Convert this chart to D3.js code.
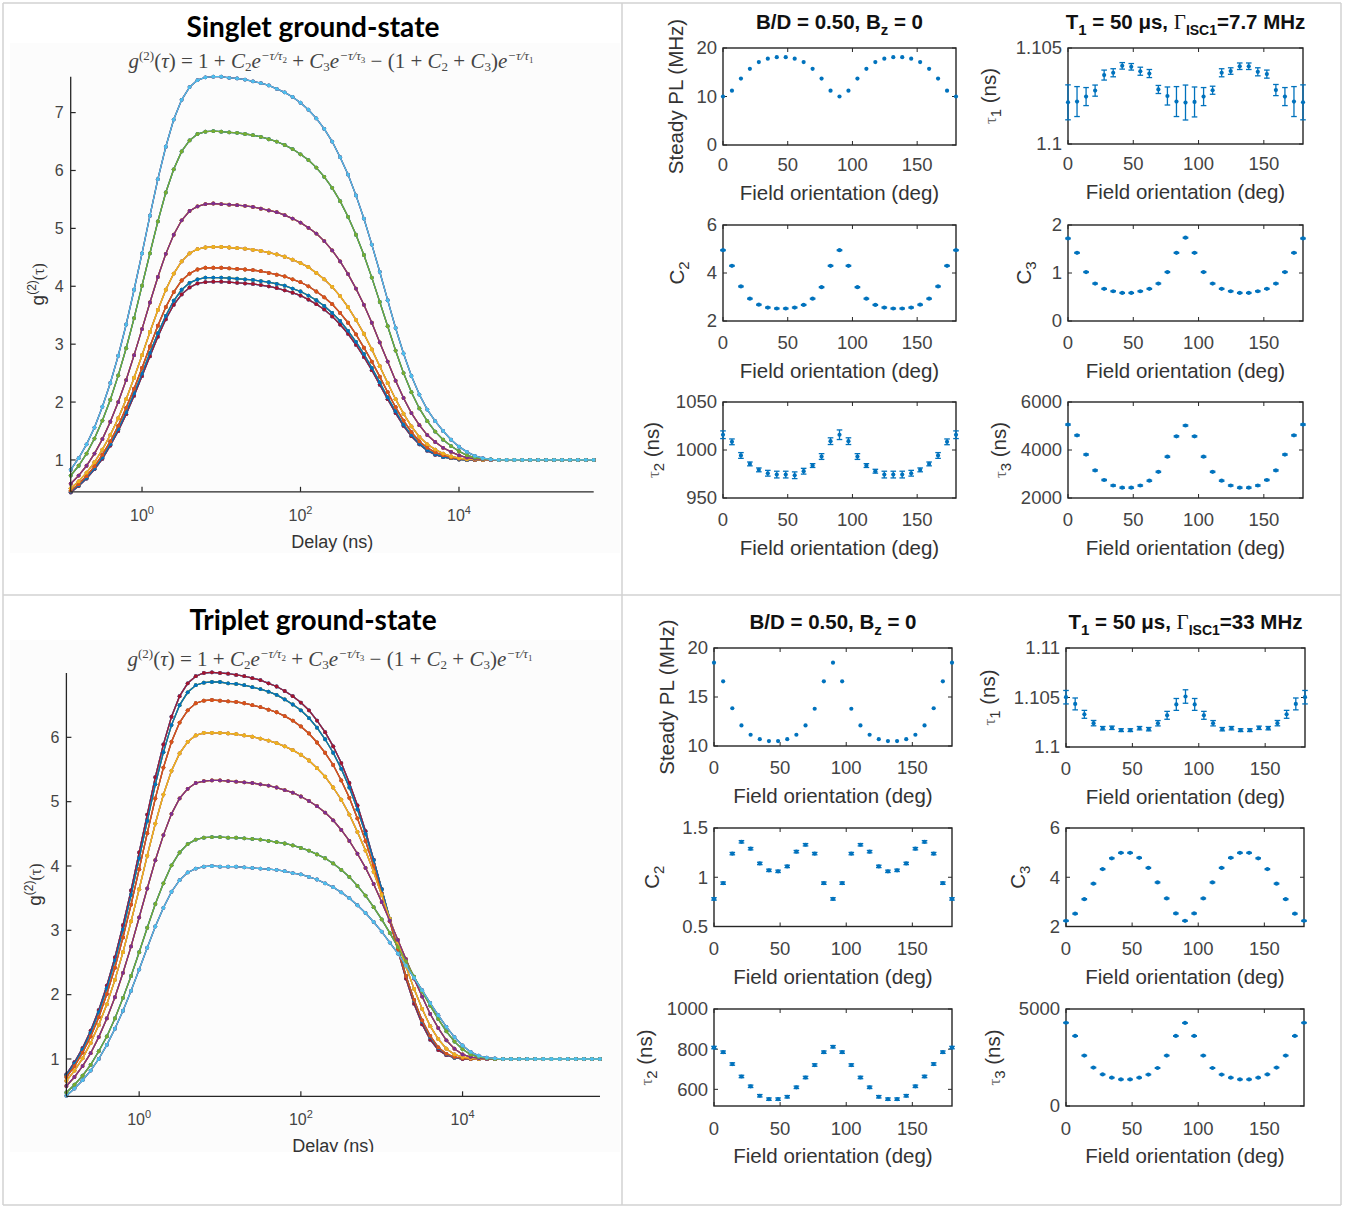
<!DOCTYPE html>
<html>
<head>
<meta charset="utf-8">
<script src="https://cdn.jsdelivr.net/npm/d3@7"></script>
<style>
  body { margin: 0; background: #fff; }
  text { white-space: pre; }
</style>
</head>
<body>
<div id="fig"></div>
<script>
// MATLAB default colour order, cycled over the 27 field orientations
var colorOrder = ["#0072BD", "#D95319", "#EDB120", "#7E2F8E", "#77AC30", "#4DBEEE", "#A2142F"];

// field orientation (deg)
var angles = [0, 6.92, 13.85, 20.77, 27.69, 34.62, 41.54, 48.46, 55.38, 62.31, 69.23, 76.15, 83.08, 90,
  96.92, 103.85, 110.77, 117.69, 124.62, 131.54, 138.46, 145.38, 152.31, 159.23, 166.15, 173.08, 180];

// log10 of the delay (ns) of every g2 sample
var delayExp = [-0.9,-0.8,-0.7,-0.6,-0.5,-0.4,-0.3,-0.2,-0.1,0,0.1,0.2,0.3,0.4,0.5,0.6,0.7,0.8,0.9,
  1,1.1,1.2,1.3,1.4,1.5,1.6,1.7,1.8,1.9,2,2.1,2.2,2.3,2.4,2.5,2.6,2.7,2.8,2.9,
  3,3.1,3.2,3.3,3.4,3.5,3.6,3.7,3.8,3.9,4,4.1,4.2,4.3,4.4,4.5,4.6,4.7,4.8,4.9,
  5,5.1,5.2,5.3,5.4,5.5,5.6,5.7];

// the 27 orientations only give 7 different curves (mirror about 45 and 90 deg)
var curveOfAngle = [0,1,2,3,4,5,6,6,5,4,3,2,1,0,1,2,3,4,5,6,6,5,4,3,2,1,0];

// singlet ground-state g2 curves
var singletG0 = [0.83,1.03,1.27,1.56,1.92,2.33,2.80,3.34,3.94,4.57,5.22,5.85,6.41,6.88,7.22,7.44,7.56,7.61,7.62,
  7.62,7.60,7.59,7.57,7.54,7.51,7.47,7.41,7.35,7.27,7.17,7.05,6.90,6.72,6.50,6.23,5.93,5.57,5.17,4.72,
  4.25,3.76,3.28,2.84,2.45,2.13,1.87,1.67,1.50,1.35,1.23,1.14,1.07,1.03,1.01,1.00,1,1,1,1,1,1,1,1,1,1,1,1];
var singletG1 = [0.73,0.90,1.11,1.37,1.68,2.04,2.46,2.93,3.45,4.01,4.57,5.12,5.62,6.02,6.33,6.52,6.63,6.67,6.68,
  6.67,6.66,6.65,6.63,6.61,6.58,6.54,6.50,6.44,6.37,6.28,6.18,6.05,5.89,5.70,5.47,5.20,4.89,4.54,4.15,
  3.73,3.31,2.89,2.50,2.17,1.89,1.67,1.49,1.35,1.24,1.15,1.08,1.04,1.02,1.01,1.00,1,1,1,1,1,1,1,1,1,1,1,1];
var singletG2 = [0.59,0.73,0.90,1.11,1.36,1.66,2.00,2.38,2.81,3.26,3.72,4.16,4.56,4.89,5.14,5.30,5.38,5.42,5.43,
  5.42,5.41,5.40,5.39,5.37,5.34,5.31,5.28,5.23,5.17,5.10,5.01,4.91,4.78,4.62,4.43,4.21,3.96,3.68,3.37,
  3.03,2.70,2.37,2.07,1.81,1.60,1.43,1.31,1.21,1.14,1.08,1.04,1.02,1.01,1.00,1.00,1,1,1,1,1,1,1,1,1,1,1,1];
var singletG3 = [0.51,0.63,0.78,0.96,1.18,1.43,1.72,2.05,2.42,2.81,3.21,3.59,3.94,4.22,4.43,4.57,4.64,4.67,4.68,
  4.68,4.67,4.66,4.65,4.63,4.61,4.58,4.55,4.51,4.46,4.40,4.33,4.23,4.12,3.99,3.83,3.64,3.42,3.18,2.91,
  2.62,2.33,2.05,1.80,1.58,1.40,1.27,1.18,1.11,1.06,1.03,1.01,1.01,1.00,1.00,1.00,1,1,1,1,1,1,1,1,1,1,1,1];
var singletG4 = [0.47,0.58,0.72,0.89,1.09,1.32,1.59,1.90,2.23,2.59,2.96,3.32,3.64,3.90,4.10,4.22,4.29,4.32,4.32,
  4.32,4.31,4.30,4.29,4.28,4.26,4.23,4.20,4.17,4.12,4.07,4.00,3.91,3.81,3.69,3.54,3.37,3.17,2.94,2.70,
  2.44,2.17,1.91,1.68,1.48,1.32,1.21,1.13,1.08,1.04,1.02,1.01,1.00,1.00,1.00,1.00,1,1,1,1,1,1,1,1,1,1,1,1];
var singletG5 = [0.45,0.56,0.69,0.85,1.04,1.27,1.53,1.82,2.15,2.49,2.85,3.19,3.49,3.75,3.94,4.06,4.12,4.15,4.15,
  4.15,4.14,4.13,4.12,4.11,4.09,4.07,4.04,4.01,3.96,3.91,3.84,3.76,3.66,3.54,3.40,3.23,3.04,2.83,2.59,
  2.34,2.08,1.84,1.61,1.43,1.28,1.17,1.10,1.05,1.03,1.01,1.00,1.00,1.00,1.00,1.00,1,1,1,1,1,1,1,1,1,1,1,1];
var singletG6 = [0.44,0.55,0.68,0.84,1.02,1.25,1.50,1.79,2.11,2.45,2.79,3.13,3.43,3.68,3.86,3.98,4.05,4.07,4.08,
  4.08,4.07,4.06,4.05,4.04,4.02,4.00,3.97,3.93,3.89,3.84,3.77,3.69,3.60,3.48,3.34,3.18,2.99,2.78,2.55,
  2.30,2.05,1.81,1.59,1.41,1.27,1.16,1.09,1.05,1.03,1.01,1.00,1.00,1.00,1.00,1.00,1,1,1,1,1,1,1,1,1,1,1,1];

// triplet ground-state g2 curves
var tripletG0 = [0.43,0.54,0.67,0.82,1.00,1.22,1.47,1.75,2.06,2.39,2.73,3.06,3.35,3.60,3.78,3.90,3.96,3.99,4.00,
  3.99,3.99,3.99,3.98,3.97,3.96,3.95,3.94,3.92,3.89,3.87,3.83,3.79,3.73,3.67,3.59,3.50,3.39,3.27,3.13,
  2.98,2.81,2.64,2.45,2.26,2.07,1.87,1.68,1.50,1.34,1.21,1.11,1.05,1.02,1.01,1.00,1,1,1,1,1,1,1,1,1,1,1,1];
var tripletG1 = [0.48,0.60,0.74,0.91,1.12,1.35,1.63,1.95,2.29,2.66,3.04,3.41,3.73,4.01,4.21,4.34,4.41,4.44,4.45,
  4.45,4.44,4.44,4.43,4.42,4.41,4.39,4.37,4.35,4.32,4.28,4.24,4.18,4.12,4.04,3.94,3.83,3.69,3.54,3.36,
  3.17,2.96,2.74,2.52,2.28,2.05,1.83,1.62,1.43,1.27,1.15,1.07,1.03,1.01,1.00,1.00,1,1,1,1,1,1,1,1,1,1,1,1];
var tripletG2 = [0.58,0.72,0.89,1.09,1.34,1.63,1.96,2.34,2.75,3.20,3.65,4.09,4.48,4.81,5.05,5.20,5.29,5.32,5.33,
  5.33,5.32,5.31,5.30,5.29,5.27,5.25,5.22,5.18,5.14,5.08,5.01,4.93,4.83,4.71,4.56,4.39,4.19,3.97,3.72,
  3.44,3.15,2.85,2.55,2.25,1.97,1.70,1.48,1.29,1.16,1.07,1.03,1.01,1.00,1.00,1.00,1,1,1,1,1,1,1,1,1,1,1,1];
var tripletG3 = [0.66,0.82,1.01,1.25,1.53,1.85,2.23,2.66,3.14,3.64,4.16,4.66,5.11,5.48,5.75,5.93,6.03,6.07,6.07,
  6.07,6.06,6.05,6.03,6.01,5.98,5.95,5.91,5.86,5.80,5.73,5.64,5.52,5.39,5.22,5.03,4.80,4.53,4.24,3.91,
  3.55,3.18,2.81,2.44,2.09,1.78,1.51,1.31,1.16,1.07,1.03,1.01,1.00,1.00,1.00,1.00,1,1,1,1,1,1,1,1,1,1,1,1];
var tripletG4 = [0.72,0.89,1.10,1.35,1.65,2.01,2.42,2.89,3.40,3.95,4.51,5.05,5.53,5.93,6.23,6.42,6.53,6.57,6.58,
  6.57,6.56,6.55,6.53,6.50,6.47,6.43,6.39,6.33,6.26,6.17,6.06,5.92,5.76,5.57,5.33,5.06,4.74,4.39,4.00,
  3.57,3.14,2.70,2.29,1.92,1.60,1.36,1.18,1.08,1.03,1.01,1.00,1.00,1.00,1.00,1.00,1,1,1,1,1,1,1,1,1,1,1,1];
var tripletG5 = [0.75,0.93,1.15,1.41,1.73,2.10,2.53,3.01,3.55,4.12,4.70,5.27,5.77,6.19,6.50,6.70,6.81,6.85,6.86,
  6.86,6.84,6.83,6.81,6.78,6.75,6.71,6.66,6.59,6.51,6.42,6.30,6.15,5.97,5.76,5.51,5.22,4.88,4.50,4.09,
  3.64,3.18,2.73,2.29,1.91,1.58,1.34,1.17,1.07,1.02,1.01,1.00,1.00,1.00,1.00,1.00,1,1,1,1,1,1,1,1,1,1,1,1];
var tripletG6 = [0.76,0.95,1.17,1.44,1.76,2.14,2.58,3.08,3.62,4.21,4.80,5.38,5.89,6.32,6.64,6.84,6.95,7.00,7.01,
  7.00,6.99,6.97,6.95,6.92,6.89,6.84,6.79,6.72,6.64,6.54,6.42,6.26,6.08,5.86,5.60,5.29,4.94,4.54,4.10,
  3.64,3.16,2.69,2.25,1.86,1.54,1.30,1.14,1.06,1.02,1.00,1.00,1.00,1.00,1.00,1.00,1,1,1,1,1,1,1,1,1,1,1,1];

var singletCurves = [singletG0, singletG1, singletG2, singletG3, singletG4, singletG5, singletG6];
var tripletCurves = [tripletG0, tripletG1, tripletG2, tripletG3, tripletG4, tripletG5, tripletG6];

// singlet fit parameters vs field orientation
var singletPL = [10.0,11.2,13.7,15.7,17.1,17.8,18.1,18.1,17.8,17.1,15.7,13.7,11.2,10.0,
  11.2,13.7,15.7,17.1,17.8,18.1,18.1,17.8,17.1,15.7,13.7,11.2,10.0];
var singletTau1 = [1.10217,1.10221,1.10247,1.10278,1.10359,1.10371,1.10407,1.10402,1.10379,1.10367,1.10284,1.10250,1.10221,1.10216,
  1.10219,1.10247,1.10280,1.10371,1.10380,1.10405,1.10405,1.10376,1.10364,1.10281,1.10247,1.10221,1.10217];
var singletTau1Err = [0.00091,0.00078,0.00047,0.00029,0.00026,0.00021,0.00017,0.00017,0.00021,0.00021,0.00021,0.00047,0.00078,0.00091,
  0.00078,0.00047,0.00021,0.00021,0.00017,0.00017,0.00017,0.00021,0.00021,0.00029,0.00047,0.00078,0.00091];
var singletC2 = [4.95,4.30,3.44,2.93,2.68,2.56,2.52,2.52,2.56,2.67,2.93,3.41,4.30,4.95,
  4.30,3.41,2.93,2.67,2.56,2.52,2.52,2.56,2.68,2.93,3.44,4.30,4.95];
var singletC3 = [1.72,1.42,1.02,0.78,0.67,0.62,0.585,0.585,0.62,0.67,0.78,1.02,1.42,1.735,
  1.42,1.02,0.78,0.67,0.62,0.585,0.585,0.62,0.67,0.78,1.02,1.42,1.72];
var singletTau2 = [1015.9,1008.5,994.3,985.5,979.3,975.8,974.4,974.4,973.7,977.9,983.8,993.2,1009.2,1015.9,
  1009.2,993.2,983.8,977.9,974.4,974.4,974.4,975.8,979.3,985.5,994.3,1008.5,1015.9];
var singletTau2Err = [4,3,3,2,2,3,3.5,3.5,3.5,3,2,3,3.5,5,3.5,3,2,2,3.5,3.5,3.5,3,2,2,3,3,4];
var singletTau3 = [5060,4610,3810,3150,2750,2520,2430,2430,2520,2720,3090,3720,4570,5020,
  4570,3720,3090,2720,2520,2430,2430,2520,2750,3150,3810,4610,5060];
var singletC2Err = 0.02, singletC3Err = 0.01, singletTau3Err = 25;

// triplet fit parameters vs field orientation
var tripletPL = [18.5,16.6,13.85,12.1,11.15,10.7,10.5,10.5,10.7,11.15,12.1,13.8,16.6,18.5,
  16.6,13.8,12.1,11.15,10.7,10.5,10.5,10.7,11.15,12.1,13.85,16.6,18.5];
var tripletTau1 = [1.10503,1.10435,1.1033,1.10241,1.1019,1.10194,1.1017,1.1017,1.1019,1.1018,1.1024,1.1032,1.1043,1.1051,
  1.1043,1.1032,1.1024,1.1018,1.1019,1.1017,1.1017,1.10194,1.1019,1.10241,1.1033,1.10435,1.10503];
var tripletTau1Err = [0.00068,0.0006,0.0004,0.00027,0.00017,0.00017,0.00014,0.00014,0.00017,0.00017,0.00027,0.0004,0.0006,0.00068,
  0.0006,0.0004,0.00027,0.00017,0.00017,0.00014,0.00014,0.00017,0.00017,0.00027,0.0004,0.0006,0.00068];
var tripletC2 = [0.78,0.94,1.24,1.36,1.29,1.14,1.07,1.06,1.11,1.26,1.33,1.24,0.94,0.78,
  0.94,1.24,1.33,1.26,1.11,1.06,1.07,1.14,1.29,1.36,1.24,0.94,0.78];
var tripletC3 = [2.23,2.52,3.11,3.74,4.33,4.77,4.99,4.99,4.79,4.38,3.79,3.14,2.53,2.23,
  2.53,3.14,3.79,4.38,4.79,4.99,4.99,4.77,4.33,3.74,3.11,2.52,2.23];
var tripletTau2 = [808,785,726,664,615,568,551,551,563,610,659,721,785,812,
  785,721,659,610,563,551,551,568,615,664,726,785,808];
var tripletTau3 = [4290,3610,2600,1980,1630,1460,1370,1370,1460,1620,1960,2600,3610,4280,
  3610,2600,1960,1620,1460,1370,1370,1460,1630,1980,2600,3610,4290];
var tripletC2Err = 0.012, tripletC3Err = 0.02, tripletTau2Err = 6, tripletTau3Err = 20;

var SANS = "'Liberation Sans', Arial, Helvetica, sans-serif";
var SERIF = "'Liberation Serif', 'Times New Roman', serif";
var AX = "#262626";

var svg = d3.select("#fig").append("svg")
  .attr("width", 1356).attr("height", 1207)
  .style("display", "block").style("font-family", SANS);

// text with sub/superscripts made of tspans; s = shift up in px
function rich(parent, x, y, parts, o) {
  o = o || {};
  var t = parent.append("text")
    .attr("x", x).attr("y", y)
    .attr("text-anchor", o.anchor || "middle")
    .attr("font-size", o.size || 16)
    .attr("font-family", o.family || SANS)
    .attr("font-weight", o.weight || "normal")
    .attr("fill", o.fill || "#333");
  if (o.rotate) t.attr("transform", "rotate(-90," + x + "," + y + ")");
  var cur = 0;
  parts.forEach(function(p) {
    if (typeof p === "string") p = {t: p};
    var off = -(p.s || 0);
    var ts = t.append("tspan").text(p.t).attr("dy", off - cur);
    cur = off;
    if (p.sz) ts.attr("font-size", p.sz);
    if (p.i) ts.attr("font-style", "italic");
    if (p.f) ts.attr("font-family", p.f);
    if (p.w) ts.attr("font-weight", p.w);
    if (p.c) ts.attr("fill", p.c);
  });
  return t;
}

// frame of the figure grid
svg.append("g").attr("stroke", "#d2d2d2").attr("stroke-width", 1.5)
  .selectAll("line")
  .data([[3,3,1341,3],[3,1205,1341,1205],[3,3,3,1205],[1341,3,1341,1205],[3,595,1341,595],[622,3,622,1205]])
  .enter().append("line")
  .attr("x1", function(d) { return d[0]; }).attr("y1", function(d) { return d[1]; })
  .attr("x2", function(d) { return d[2]; }).attr("y2", function(d) { return d[3]; });

function formulaParts() {
  var sup = function(t) { return {t: t, sz: 13, s: 8, i: 1}; };
  var supsub = function(t) { return {t: t, sz: 9, s: 5}; };
  var sub = function(t) { return {t: t, sz: 13, s: -3}; };
  return [{t: "g", i: 1}, {t: "(2)", sz: 13, s: 8}, "(", {t: "τ", i: 1}, ") = 1 + ",
    {t: "C", i: 1}, sub("2"), {t: "e", i: 1}, sup("−τ/τ"), supsub("2"), " + ",
    {t: "C", i: 1}, sub("3"), {t: "e", i: 1}, sup("−τ/τ"), supsub("3"), " − (1 + ",
    {t: "C", i: 1}, sub("2"), " + ", {t: "C", i: 1}, sub("3"), ")", {t: "e", i: 1}, sup("−τ/τ"), supsub("1")];
}

// big g2 vs delay chart
function decayChart(c) {
  var g = svg.append("g");
  g.append("rect").attr("x", c.bg[0]).attr("y", c.bg[1]).attr("width", c.bg[2]).attr("height", c.bg[3])
    .attr("fill", "#fcfcfc");

  var x = d3.scaleLog().domain([Math.pow(10, delayExp[0]), Math.pow(10, delayExp[delayExp.length - 1])]).range(c.xr);
  var y = d3.scaleLinear().domain(c.yDomain).range(c.yr);

  // curves: one per orientation, colours cycling through the colour order
  var line = d3.line()
    .x(function(d) { return x(Math.pow(10, d[0])); })
    .y(function(d) { return y(d[1]); });
  curveOfAngle.forEach(function(k, i) {
    var vals = c.curves[k];
    var pts = delayExp.map(function(e, j) { return [e, vals[j]]; }).filter(function(d) { return d[1] != null; });
    var col = colorOrder[i % colorOrder.length];
    var s = g.append("g");
    s.append("path").attr("d", line(pts)).attr("fill", "none").attr("stroke", col).attr("stroke-width", 1.3);
    s.selectAll("circle").data(pts).enter().append("circle")
      .attr("cx", function(d) { return x(Math.pow(10, d[0])); })
      .attr("cy", function(d) { return y(d[1]); })
      .attr("r", 1.9).attr("fill", col);
  });

  // axes (box off, ticks inside)
  var x0 = c.xr[0], x1 = c.xr[1], yb = c.yr[0], yt = c.yr[1];
  g.append("line").attr("x1", x0).attr("y1", yb).attr("x2", x1).attr("y2", yb).attr("stroke", AX).attr("stroke-width", 1.3);
  g.append("line").attr("x1", x0).attr("y1", yb).attr("x2", x0).attr("y2", yt).attr("stroke", AX).attr("stroke-width", 1.3);
  [1, 100, 10000].forEach(function(v, i) {
    g.append("line").attr("x1", x(v)).attr("x2", x(v)).attr("y1", yb).attr("y2", yb - 5).attr("stroke", AX).attr("stroke-width", 1.2);
    rich(g, x(v), yb + 29, ["10", {t: String(i * 2), sz: 11, s: 7}], {size: 16, fill: "#444"});
  });
  c.yTicks.forEach(function(v) {
    g.append("line").attr("x1", x0).attr("x2", x0 + 5).attr("y1", y(v)).attr("y2", y(v)).attr("stroke", AX).attr("stroke-width", 1.2);
    g.append("text").attr("x", x0 - 7).attr("y", y(v)).attr("dy", "0.35em").attr("text-anchor", "end")
      .attr("font-size", 16).attr("fill", "#444").text(v);
  });

  rich(g, c.titleX, c.titleY, ["" + c.title], {size: 28, weight: "bold", family: "Lato, 'Open Sans', sans-serif", fill: "#000"});
  rich(g, c.formX, c.formY, formulaParts(), {size: 21, family: SERIF, fill: "#444"});
  rich(g, c.ylabX, (yb + yt) / 2, ["g", {t: "(2)", sz: 12, s: 8}, {t: "(τ)", f: SERIF, sz: 16}], {size: 19, rotate: true, fill: "#333"});
  var xl = rich(g, (x0 + x1) / 2, c.xlabY, ["Delay (ns)"], {size: 18, fill: "#333"});
  if (c.clip) {
    svg.append("clipPath").attr("id", c.clip.id).append("rect")
      .attr("x", c.bg[0]).attr("y", c.bg[1]).attr("width", c.bg[2]).attr("height", c.bg[3]);
    xl.attr("clip-path", "url(#" + c.clip.id + ")");
  }
}

decayChart({
  bg: [10, 43, 610, 510], xr: [70.7, 593.7], yr: [491.8, 76.7], yDomain: [0.45, 7.62],
  yTicks: [1, 2, 3, 4, 5, 6, 7], curves: singletCurves,
  title: "Singlet ground-state", titleX: 313, titleY: 37, formX: 331, formY: 68,
  ylabX: 44, xlabY: 548
});
decayChart({
  bg: [10, 640, 610, 512], xr: [66.4, 600.0], yr: [1096.3, 673.0], yDomain: [0.42, 7.0],
  yTicks: [1, 2, 3, 4, 5, 6], curves: tripletCurves,
  title: "Triplet ground-state", titleX: 313, titleY: 630, formX: 330, formY: 666,
  ylabX: 41, xlabY: 1152, clip: {id: "clipTrip"}
});

// small fit-parameter panels (box on, ticks inside on all sides)
function panel(p) {
  var g = svg.append("g");
  var x = d3.scaleLinear().domain([0, 180]).range([p.left, p.left + p.w]);
  var y = d3.scaleLinear().domain(p.yDomain).range([p.top + p.h, p.top]);
  var bot = p.top + p.h, right = p.left + p.w;

  [0, 50, 100, 150].forEach(function(v) {
    g.append("line").attr("x1", x(v)).attr("x2", x(v)).attr("y1", bot).attr("y2", bot - 4).attr("stroke", AX);
    g.append("line").attr("x1", x(v)).attr("x2", x(v)).attr("y1", p.top).attr("y2", p.top + 4).attr("stroke", AX);
    g.append("text").attr("x", x(v)).attr("y", bot + (p.tickGap || 28)).attr("text-anchor", "middle")
      .attr("font-size", 18.5).attr("fill", "#444").text(v);
  });
  p.yTicks.forEach(function(v, i) {
    g.append("line").attr("x1", p.left).attr("x2", p.left + 4).attr("y1", y(v)).attr("y2", y(v)).attr("stroke", AX);
    g.append("line").attr("x1", right).attr("x2", right - 4).attr("y1", y(v)).attr("y2", y(v)).attr("stroke", AX);
    g.append("text").attr("x", p.left - 6).attr("y", y(v)).attr("dy", "0.35em").attr("text-anchor", "end")
      .attr("font-size", 18.5).attr("fill", "#444").text(p.yTickText ? p.yTickText[i] : v);
  });
  g.append("rect").attr("x", p.left).attr("y", p.top).attr("width", p.w).attr("height", p.h)
    .attr("fill", "none").attr("stroke", AX).attr("stroke-width", 1.4);

  var pts = angles.map(function(a, i) {
    var e = p.err == null ? null : (Array.isArray(p.err) ? p.err[i] : p.err);
    return {a: a, v: p.values[i], e: e};
  });
  var blue = colorOrder[0];
  if (p.err != null) {
    var eb = g.append("g").attr("stroke", blue).attr("stroke-width", 1.3);
    pts.forEach(function(d) {
      var cx = x(d.a), lo = y(d.v - d.e), hi = y(d.v + d.e);
      eb.append("line").attr("x1", cx).attr("x2", cx).attr("y1", lo).attr("y2", hi);
      eb.append("line").attr("x1", cx - 2.8).attr("x2", cx + 2.8).attr("y1", lo).attr("y2", lo);
      eb.append("line").attr("x1", cx - 2.8).attr("x2", cx + 2.8).attr("y1", hi).attr("y2", hi);
    });
  }
  g.selectAll("circle.pt").data(pts).enter().append("circle").attr("class", "pt")
    .attr("cx", function(d) { return x(d.a); }).attr("cy", function(d) { return y(d.v); })
    .attr("r", 2.1).attr("fill", blue);

  rich(g, (p.left + right) / 2, bot + (p.labGap || 57), ["Field orientation (deg)"], {size: 20.5, fill: "#333"});
  rich(g, p.ylabX + 7, p.top + p.h / 2, p.ylab, {size: 20.5, rotate: true, fill: "#333"});
  if (p.title) rich(g, (p.left + right) / 2, p.top - 19, p.title, {size: 20.5, weight: "bold", fill: "#111"});
}

var tauLab = function(n) { return [{t: "τ", f: SERIF, sz: 17, c: "#666"}, {t: n, sz: 15, s: -5}, " (ns)"]; };
var cLab = function(n) { return ["C", {t: n, sz: 15, s: -5}]; };
var bdTitle = ["B/D = 0.50, B", {t: "z", sz: 15, s: -6}, " = 0"];
var t1Title = function(rate) {
  return ["T", {t: "1", sz: 15, s: -6}, " = 50 μs, ", {t: "Γ", f: SERIF, w: "normal", sz: 21}, {t: "ISC1", sz: 14, s: -6}, "=" + rate + " MHz"];
};

// singlet panels
panel({left: 723, top: 48, w: 233, h: 97, yDomain: [0, 20], yTicks: [0, 10, 20], values: singletPL,
  ylab: ["Steady PL (MHz)"], ylabX: 676, title: bdTitle, tickGap: 26, labGap: 55});
panel({left: 1068, top: 48, w: 235, h: 96, yDomain: [1.1, 1.105], yTicks: [1.1, 1.105], values: singletTau1, err: singletTau1Err,
  ylab: tauLab("1"), ylabX: 989, title: t1Title("7.7"), tickGap: 26, labGap: 55});
panel({left: 723, top: 225, w: 233, h: 96, yDomain: [2, 6], yTicks: [2, 4, 6], values: singletC2, err: singletC2Err,
  ylab: cLab("2"), ylabX: 677});
panel({left: 1068, top: 225, w: 235, h: 96, yDomain: [0, 2], yTicks: [0, 1, 2], values: singletC3, err: singletC3Err,
  ylab: cLab("3"), ylabX: 1024});
panel({left: 723, top: 402, w: 233, h: 96, yDomain: [950, 1050], yTicks: [950, 1000, 1050], values: singletTau2, err: singletTau2Err,
  ylab: tauLab("2"), ylabX: 652});
panel({left: 1068, top: 402, w: 235, h: 96, yDomain: [2000, 6000], yTicks: [2000, 4000, 6000], values: singletTau3, err: singletTau3Err,
  ylab: tauLab("3"), ylabX: 999});

// triplet panels
panel({left: 714, top: 648, w: 238, h: 98, yDomain: [10, 20], yTicks: [10, 15, 20], values: tripletPL,
  ylab: ["Steady PL (MHz)"], ylabX: 667, title: bdTitle});
panel({left: 1066, top: 648, w: 239, h: 99, yDomain: [1.1, 1.11], yTicks: [1.1, 1.105, 1.11], yTickText: ["1.1", "1.105", "1.11"],
  values: tripletTau1, err: tripletTau1Err, ylab: tauLab("1"), ylabX: 988, title: t1Title("33")});
panel({left: 714, top: 828, w: 238, h: 98.5, yDomain: [0.5, 1.5], yTicks: [0.5, 1, 1.5], values: tripletC2, err: tripletC2Err,
  ylab: cLab("2"), ylabX: 652});
panel({left: 1066, top: 828, w: 238, h: 98.5, yDomain: [2, 6], yTicks: [2, 4, 6], values: tripletC3, err: tripletC3Err,
  ylab: cLab("3"), ylabX: 1018});
panel({left: 714, top: 1009, w: 238, h: 97, yDomain: [517, 1000], yTicks: [600, 800, 1000], values: tripletTau2, err: tripletTau2Err,
  ylab: tauLab("2"), ylabX: 645, tickGap: 29});
panel({left: 1066, top: 1009, w: 238, h: 97, yDomain: [0, 5000], yTicks: [0, 5000], values: tripletTau3, err: tripletTau3Err,
  ylab: tauLab("3"), ylabX: 993, tickGap: 29});
</script>
</body>
</html>
